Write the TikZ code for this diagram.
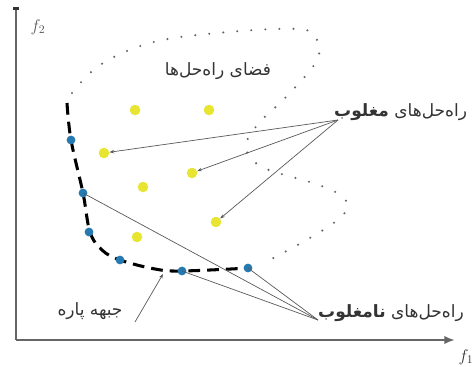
\documentclass[tikz,border=0pt]{standalone}
\usepackage{fontspec}
\newfontfamily\fafont[Script=Arabic]{DejaVu Sans}
\TeXXeTstate=1
\usetikzlibrary{arrows.meta}
\definecolor{solyellow}{RGB}{232,228,50}
\definecolor{solblue}{RGB}{38,122,178}
\newcommand{\fa}[1]{{\fafont\beginR #1\endR}}
\tikzset{
  axis/.style={line width=1.8pt,black!60},
  yellowpt/.style={circle,fill=solyellow,inner sep=0pt,minimum size=9pt},
  bluept/.style={circle,fill=solblue,inner sep=0pt,minimum size=7.5pt},
  link/.style={black!65,line width=0.6pt},
  falabel/.style={font=\fontsize{14.5}{16}\selectfont,text=black!80,inner sep=0pt}
}
\begin{document}
\begin{tikzpicture}[x=0.03cm,y=-0.03cm,>={Stealth[length=4pt,width=3pt]}]
                \useasboundingbox (0,0) rectangle (475,367);
                % axes
                \draw[axis,-{Latex[length=9pt,width=7pt]}] (16,340) -- (455,340);
                \draw[axis] (16,340) -- (16,8);
                \fill[black!80] (13,7) rectangle (19,10);
                \node[text=black!65,font=\Large] (f2) at (38,27) {$f_2$};
                \node[text=black!80,font=\Large] (f1) at (466,357) {$f_1$};
                % solution space boundary
                \draw[black!60,line width=2pt,line cap=round,dash pattern=on 0pt off 12pt]
                    plot[smooth,tension=0.6] coordinates {(72,93) (100,65) (150,43) (217,33) (298,29)
                    (317,40) (316,62) (285,98) (258,124) (246,147) (262,167) (313,183) (337,193)
                    (348,206) (335,222) (301,243) (262,264)};
                % pareto front
                \draw[black,line width=2.6pt,dash pattern=on 10pt off 6pt]
                    plot[smooth,tension=0.6] coordinates {(67,103) (71,140) (83,193) (90,232)
                    (102,250) (120,260) (155,269) (182,271) (250,268)};
                \foreach \n/\x/\y in {1/135/110,2/209/110,3/104/153,4/192/173,5/143/187,6/216/222,7/137/237}
                    \node[yellowpt] (y\n) at (\x,\y) {};
                \foreach \n/\x/\y in {1/71/140,2/83/193,3/89/232,4/120/260,5/182/271,6/248/268}
                    \node[bluept] (b\n) at (\x,\y) {};
                % labels
                \node[falabel] (space) at (218,71) {\fa{فضای راه‌حل‌ها}};
                \node[falabel,anchor=west] (domlbl) at (334,112) {\fa{راه‌حل‌های {\bfseries مغلوب}}};
                \node[falabel,anchor=west] (ndomlbl) at (318,313) {\fa{راه‌حل‌های {\bfseries نامغلوب}}};
                \node[falabel] (frontlbl) at (90,311) {\fa{جبهه پاره}};
                \coordinate (dom) at (338,120);
                \coordinate (ndom) at (318,320);
                \coordinate (ftail) at (135,322);
                \coordinate (ftip) at (163,274);
                \foreach \t in {y3,y4,y6}
                    \draw[link,->] (dom) -- (\t);
                \foreach \t in {b2,b5,b6}
                    \draw[link] (ndom) -- (\t.center);
                \draw[link,->] (ftail) -- (ftip);
            \end{tikzpicture}
\end{document}
